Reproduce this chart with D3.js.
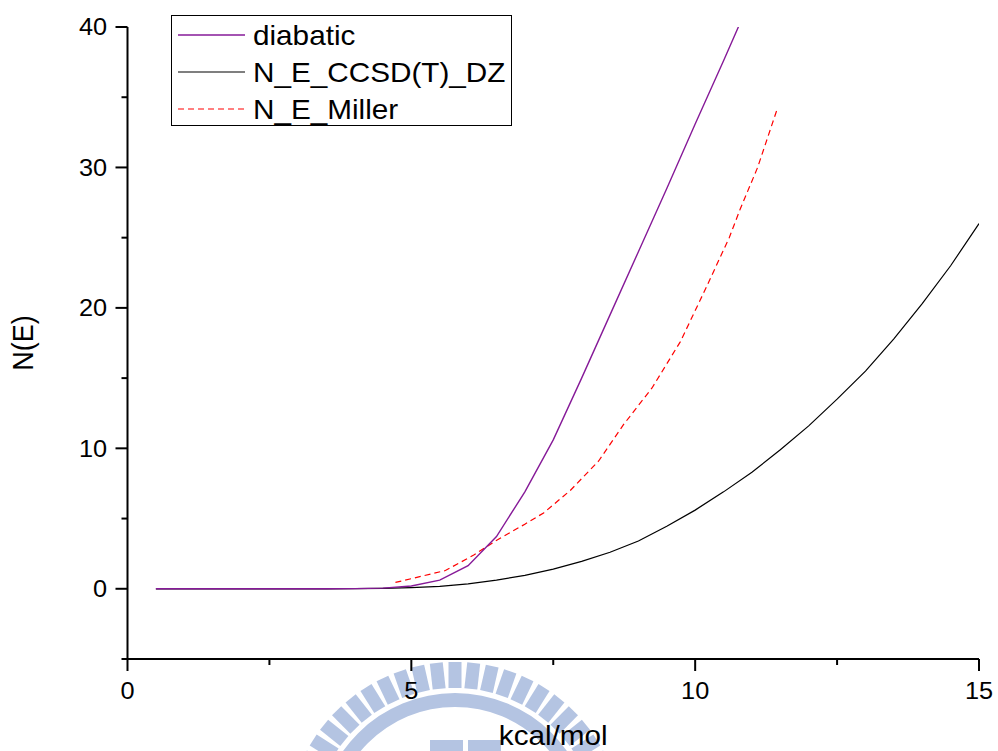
<!DOCTYPE html>
<html>
<head>
<meta charset="utf-8">
<script src="https://cdn.jsdelivr.net/npm/d3@7/dist/d3.min.js"></script>
<style>
  html, body { margin: 0; padding: 0; background: #fff; }
  svg { display: block; }
  text { font-family: "Liberation Sans", Arial, sans-serif; fill: #000; }
</style>
</head>
<body>
<svg id="chart" width="998" height="751"></svg>
<script>
// Energy grid (kcal/mol) shared by the diabatic and CCSD(T) curves
const energyDiabatic = [0.5, 1, 1.5, 2, 2.5, 3, 3.5, 4, 4.5, 5, 5.5, 6, 6.5, 7, 7.5, 8, 8.5, 9, 9.5, 10, 10.5, 11];
const diabatic       = [0, 0, 0, 0, 0, 0, 0, 0.01, 0.05, 0.2, 0.62, 1.64, 3.72, 6.9, 10.6, 15.0, 19.5, 24.0, 28.5, 33.1, 37.6, 42.2];

const energyCCSD = [0.5, 1, 1.5, 2, 2.5, 3, 3.5, 4, 4.5, 5, 5.5, 6, 6.5, 7, 7.5, 8, 8.5, 9, 9.5, 10, 10.5, 11, 11.5, 12, 12.5, 13, 13.5, 14, 14.5, 15];
const ccsdDZ     = [0, 0, 0, 0, 0, 0, 0, 0.005, 0.03, 0.08, 0.17, 0.35, 0.62, 0.95, 1.4, 1.95, 2.6, 3.4, 4.45, 5.6, 6.9, 8.3, 9.9, 11.6, 13.5, 15.5, 17.8, 20.3, 23.0, 26.0];

const energyMiller = [4.72, 5.6, 6.1, 6.48, 7.0, 7.33, 7.8, 8.3, 8.74, 9.24, 9.74, 10.2, 10.6, 10.79, 11.1, 11.44];
const miller       = [0.45, 1.3, 2.4, 3.4, 4.6, 5.4, 7.0, 9.1, 11.7, 14.3, 17.6, 21.5, 25.0, 27.0, 30.0, 34.1];

const seriesNames = ["diabatic", "N_E_CCSD(T)_DZ", "N_E_Miller"];
const xMajorTicks = [0, 5, 10, 15];
const xMinorTicks = [2.5, 7.5, 12.5];
const yMajorTicks = [0, 10, 20, 30, 40];
const yMinorTicks = [-5, 5, 15, 25, 35];
const xTitle = "kcal/mol";
const yTitle = "N(E)";

const svg = d3.select("#chart");
const x = d3.scaleLinear().domain([0, 15]).range([127.5, 979]);
const y = d3.scaleLinear().domain([-5, 40]).range([659, 27]);
const SX = 1.1; // horizontal stretch applied to all lettering

function label(g, str, px, py, size, anchor, rotate) {
  return g.append("text")
    .attr("transform", `translate(${px},${py})` + (rotate ? ` rotate(${rotate})` : "") + ` scale(${rotate ? 1 : SX},${rotate ? SX : 1})`)
    .attr("text-anchor", anchor)
    .style("font-size", size + "px")
    .text(str);
}

// faint seal watermark behind the plot
const seal = svg.append("g").attr("fill", "#b4c4e2").attr("stroke", "none");
const cx = 455, cy = 830;
for (let a = -83.2; a <= 84; a += 6.4) {
  seal.append("rect")
    .attr("x", -6.5).attr("y", -168).attr("width", 13).attr("height", 26)
    .attr("transform", `translate(${cx},${cy}) rotate(${a})`);
}
seal.append("path")
  .attr("transform", `translate(${cx},${cy})`)
  .attr("d", d3.arc()({innerRadius: 123, outerRadius: 137, startAngle: -Math.PI / 2, endAngle: Math.PI / 2}));
seal.append("rect").attr("x", 430).attr("y", 740).attr("width", 33).attr("height", 20);
seal.append("rect").attr("x", 468).attr("y", 740).attr("width", 33).attr("height", 20);

// clip for data lines
svg.append("defs").append("clipPath").attr("id", "plotClip")
  .append("rect").attr("x", x(0)).attr("y", y(40)).attr("width", x(15) - x(0)).attr("height", y(-5) - y(40));

const line = d3.line().x(d => x(d[0])).y(d => y(d[1]));
const plot = svg.append("g").attr("clip-path", "url(#plotClip)").attr("fill", "none");

plot.append("path")
  .attr("d", line(d3.zip(energyCCSD, ccsdDZ)))
  .attr("stroke", "#000").attr("stroke-width", 1.2);
plot.append("path")
  .attr("d", line(d3.zip(energyMiller, miller)))
  .attr("stroke", "#ff0000").attr("stroke-width", 1.2).attr("stroke-dasharray", "6,4");
plot.append("path")
  .attr("d", line(d3.zip(energyDiabatic, diabatic)))
  .attr("stroke", "#861a98").attr("stroke-width", 1.4);

// axes
const axes = svg.append("g").attr("stroke", "#000").attr("stroke-width", 2).attr("fill", "none");
axes.append("line").attr("x1", x(0)).attr("x2", x(0)).attr("y1", y(40)).attr("y2", y(-5));
axes.append("line").attr("x1", x(0)).attr("x2", x(15)).attr("y1", y(-5)).attr("y2", y(-5));
yMajorTicks.forEach(v => axes.append("line").attr("x1", x(0) - 12).attr("x2", x(0)).attr("y1", y(v)).attr("y2", y(v)));
yMinorTicks.forEach(v => axes.append("line").attr("x1", x(0) - 6).attr("x2", x(0)).attr("y1", y(v)).attr("y2", y(v)));
xMajorTicks.forEach(v => axes.append("line").attr("x1", x(v)).attr("x2", x(v)).attr("y1", y(-5)).attr("y2", y(-5) + 12));
xMinorTicks.forEach(v => axes.append("line").attr("x1", x(v)).attr("x2", x(v)).attr("y1", y(-5)).attr("y2", y(-5) + 6));

const txt = svg.append("g");
yMajorTicks.forEach(v => label(txt, String(v), 107, y(v) + 8.2, 23, "end"));
xMajorTicks.forEach(v => label(txt, String(v), x(v), 699, 23, "middle"));
label(txt, xTitle, (x(0) + x(15)) / 2, 745, 27, "middle");
label(txt, yTitle, 33, y(17.5), 27, "middle", -90);

// legend
const legend = svg.append("g");
legend.append("rect").attr("x", 171.5).attr("y", 15.5).attr("width", 340).attr("height", 110)
  .attr("fill", "none").attr("stroke", "#000").attr("stroke-width", 1);
const legendStyles = [
  {stroke: "#861a98", width: 1.4, dash: null},
  {stroke: "#000", width: 1.2, dash: null},
  {stroke: "#ff0000", width: 1.2, dash: "6,4"}
];
seriesNames.forEach((name, i) => {
  const ly = 35 + i * 37;
  legend.append("line").attr("x1", 178).attr("x2", 245).attr("y1", ly).attr("y2", ly)
    .attr("stroke", legendStyles[i].stroke).attr("stroke-width", legendStyles[i].width)
    .attr("stroke-dasharray", legendStyles[i].dash);
  label(legend, name, 253, ly + 10, 27, "start");
});
</script>
</body>
</html>
